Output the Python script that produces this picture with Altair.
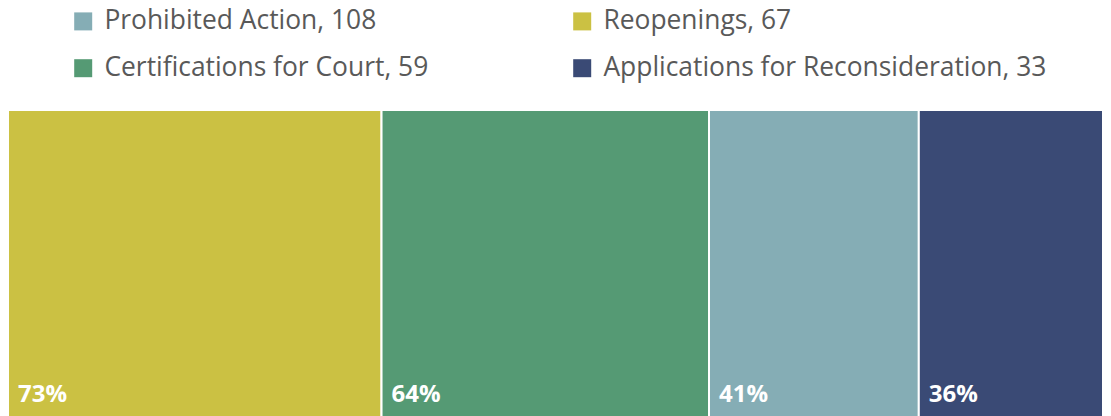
import altair as alt
import pandas as pd

categories = ["Reopenings", "Certifications for Court", "Prohibited Action", "Applications for Reconsideration"]
counts = [67, 59, 108, 33]
percents = [73, 64, 41, 36]
colors = ["#CBC143", "#559A74", "#85ADB5", "#3A4A75"]
# legend is filled column by column: column 1 = first two, column 2 = last two
legend_order = ["Prohibited Action", "Certifications for Court", "Reopenings", "Applications for Reconsideration"]

labels = [f"{c}, {n}" for c, n in zip(categories, counts)]
label_of = dict(zip(categories, labels))
color_of = dict(zip(categories, colors))
legend_labels = [label_of[c] for c in legend_order]
legend_colors = [color_of[c] for c in legend_order]

df = pd.DataFrame({"category": categories, "label": labels, "pct": percents})
df["end"] = df["pct"].cumsum()
df["start"] = df["end"] - df["pct"]
df["y0"] = 0
df["y1"] = 1
df["text"] = df["pct"].astype(str) + "%"

xs = alt.Scale(domain=[0, sum(percents)], nice=False, zero=False)
ys = alt.Scale(domain=[0, 1], nice=False)

bars = alt.Chart(df).mark_rect(stroke="white", strokeWidth=2).encode(
    x=alt.X("start:Q", scale=xs, axis=None),
    x2="end:Q",
    y=alt.Y("y0:Q", scale=ys, axis=None),
    y2="y1:Q",
    color=alt.Color(
        "label:N",
        scale=alt.Scale(domain=legend_labels, range=legend_colors),
        legend=alt.Legend(
            title=None,
            orient="none",
            legendX=62,
            legendY=-102,
            columns=2,
            columnPadding=140,
            rowPadding=20,
            symbolType="square",
            symbolSize=324,
            symbolStrokeWidth=0,
            labelOffset=8,
            labelFontSize=26.4,
            labelFont="Open Sans",
            labelColor="#595959",
            labelLimit=0,
        ),
    ),
)

text = alt.Chart(df).mark_text(
    align="left", baseline="alphabetic", dx=10, dy=-22,
    font="Open Sans", fontSize=24, fontWeight="bold", color="white",
).encode(
    x=alt.X("start:Q", scale=xs, axis=None),
    y=alt.Y("y0:Q", scale=ys, axis=None),
    text="text:N",
)

chart = alt.layer(bars, text).properties(
    width=1095, height=314,
    padding={"left": 0, "right": 0, "top": 102, "bottom": 0},
    autosize=alt.AutoSizeParams(type="none"),
).configure_view(stroke=None).configure(background="white")

chart.save("out.html", embed_options={"renderer": "svg", "actions": False})
